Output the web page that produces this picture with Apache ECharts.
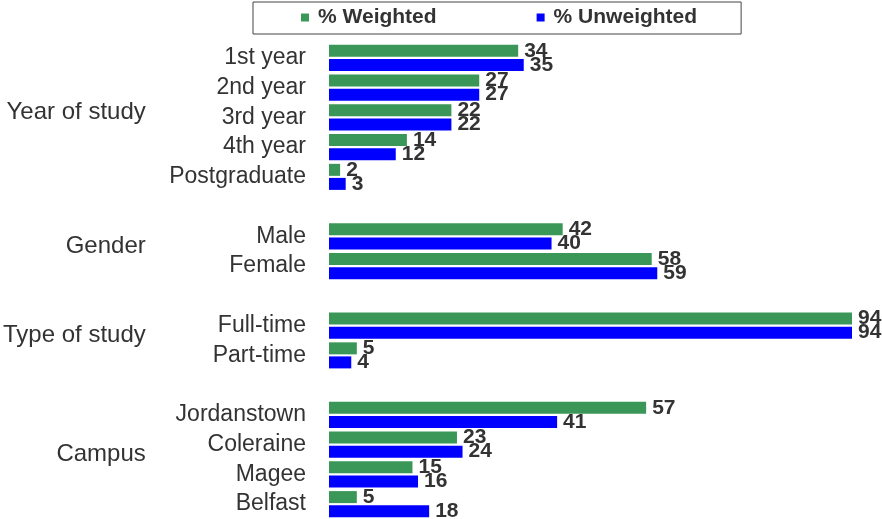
<!DOCTYPE html>
<html lang="en">
<head>
    <meta charset="UTF-8">
    <title>Respondent profile</title>
    <script src="https://cdn.jsdelivr.net/npm/echarts@6/dist/echarts.min.js"></script>
</head>
<body style="margin:0;background:#fff;">
<div id="main" style="width: 882px;height:519px;"></div>
<script>
    // rows of the chart, '' marks the blank row between groups
    var categories = ['1st year', '2nd year', '3rd year', '4th year', 'Postgraduate', '',
        'Male', 'Female', '',
        'Full-time', 'Part-time', '',
        'Jordanstown', 'Coleraine', 'Magee', 'Belfast'];
    var groups = ['Year of study', 'Gender', 'Type of study', 'Campus'];
    var weighted = [34, 27, 22, 14, 2, null, 42, 58, null, 94, 5, null, 57, 23, 15, 5];
    var unweighted = [35, 27, 22, 12, 3, null, 40, 59, null, 94, 4, null, 41, 24, 16, 18];

    // group labels sit on a half-row axis (2 slots per row + 1)
    var groupSlots = [];
    for (var i = 0; i <= categories.length * 2; i++) groupSlots.push('');
    (function () {
        var start = 0, g = 0;
        for (var i = 0; i <= categories.length; i++) {
            if (i === categories.length || categories[i] === '') {
                groupSlots[start * 2 + (i - start)] = groups[g++];
                start = i + 1;
            }
        }
    })();

    var myChart = echarts.init(document.getElementById('main'));
    var labelStyle = {
        show: true,
        position: 'right',
        distance: 6,
        color: '#333',
        fontFamily: 'Liberation Sans',
        fontWeight: 'bold',
        fontSize: 21
    };
    option = {
        animation: false,
        legend: {
            left: 253,
            top: 2,
            padding: [5, 44, 6, 48],
            borderColor: '#444',
            borderWidth: 1,
            itemWidth: 8,
            itemHeight: 8,
            itemGap: 100,
            icon: 'rect',
            textStyle: {
                fontFamily: 'Liberation Sans',
                fontWeight: 'bold',
                fontSize: 21,
                color: '#333',
                padding: [0, 0, 0, 4]
            },
            data: ['% Weighted', '% Unweighted']
        },
        grid: [
            {left: 329, right: 30, top: 43, bottom: 0},
            // same size, nudged up a little, for the group names
            {left: 329, right: 30, top: 38, bottom: 5}
        ],
        xAxis: [
            {type: 'value', min: 0, max: 94, show: false},
            {type: 'value', gridIndex: 1, min: 0, max: 94, show: false}
        ],
        yAxis: [
            {
                type: 'category',
                inverse: true,
                data: categories,
                axisLine: {show: false},
                axisTick: {show: false},
                axisLabel: {
                    interval: 0,
                    margin: 23,
                    color: '#333',
                    fontFamily: 'Liberation Sans',
                    fontSize: 23
                }
            },
            {
                type: 'category',
                gridIndex: 1,
                inverse: true,
                boundaryGap: false,
                data: groupSlots,
                axisLine: {show: false},
                axisTick: {show: false},
                splitLine: {show: false},
                axisLabel: {
                    interval: 0,
                    margin: 184,
                    color: '#333',
                    fontFamily: 'Liberation Sans',
                    fontSize: 24
                }
            }
        ],
        series: [
            {
                name: '% Weighted',
                type: 'bar',
                data: weighted,
                barWidth: 12,
                barGap: '17%',
                itemStyle: {color: '#3a9758'},
                label: labelStyle
            },
            {
                name: '% Unweighted',
                type: 'bar',
                data: unweighted,
                barWidth: 12,
                itemStyle: {color: '#0000ff'},
                label: labelStyle
            }
        ]
    };

    myChart.setOption(option);
</script>

</body>
</html>
